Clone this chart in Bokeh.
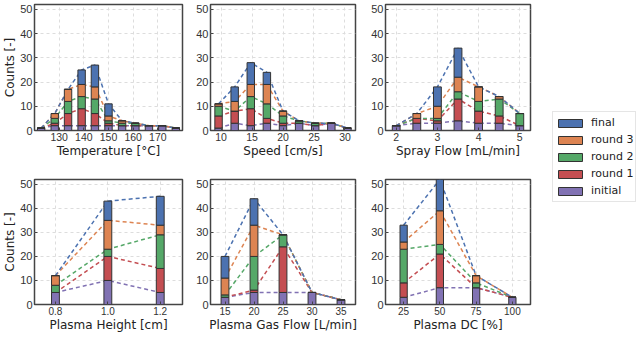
from bokeh.plotting import figure
from bokeh.layouts import row, column
from bokeh.models import Legend, LegendItem, Range1d, FixedTicker, PrintfTickFormatter
from bokeh.embed import file_html
from bokeh.resources import INLINE

ROUNDS = ["initial", "round 1", "round 2", "round 3", "final"]
COLORS = ["#8172b3", "#c44e52", "#55a868", "#dd8452", "#4c72b0"]
Y_TICKS = [0, 10, 20, 30, 40, 50]

# cumulative counts after each round (initial, round 1, round 2, round 3, final)
temp_x = [122.7, 128.2, 133.6, 139.1, 144.5, 150.0, 155.5, 160.9, 166.4, 171.8, 177.3]
temp_initial = [1, 2, 2, 2, 2, 2, 2, 2, 2, 2, 1]
temp_round1 = [1, 3, 7, 9, 7, 3, 2, 2, 2, 2, 1]
temp_round2 = [1, 5, 12, 14, 13, 4, 3, 3, 2, 2, 1]
temp_round3 = [1, 7, 17, 19, 18, 6, 4, 3, 2, 2, 1]
temp_final = [1, 7, 17, 25, 27, 11, 4, 3, 2, 2, 1]
temp_ticks = [130, 140, 150, 160, 170]

speed_x = [9.6, 12.2, 14.8, 17.4, 20.0, 22.6, 25.2, 27.8, 30.4]
speed_initial = [1, 3, 2, 3, 2, 3, 2, 3, 1]
speed_round1 = [6, 8, 9, 5, 3, 3, 2, 3, 1]
speed_round2 = [10, 8, 14, 11, 6, 4, 3, 3, 1]
speed_round3 = [11, 12, 19, 19, 8, 4, 3, 3, 1]
speed_final = [11, 18, 28, 24, 8, 4, 3, 3, 1]
speed_ticks = [10, 15, 20, 25, 30]

spray_x = [2.0, 2.5, 3.0, 3.5, 4.0, 4.5, 5.0]
spray_initial = [2, 3, 3, 4, 3, 3, 2]
spray_round1 = [2, 5, 4, 13, 8, 6, 2]
spray_round2 = [2, 5, 5, 16, 12, 13, 7]
spray_round3 = [2, 7, 10, 22, 18, 14, 7]
spray_final = [2, 7, 18, 34, 18, 14, 7]
spray_ticks = [2, 3, 4, 5]

height_x = [0.8, 1.0, 1.2]
height_initial = [5, 10, 5]
height_round1 = [5, 20, 15]
height_round2 = [8, 23, 29]
height_round3 = [12, 35, 33]
height_final = [12, 43, 45]
height_ticks = [0.8, 1.0, 1.2]

gas_x = [15, 20, 25, 30, 35]
gas_initial = [3, 5, 5, 5, 2]
gas_round1 = [3, 6, 24, 5, 2]
gas_round2 = [4, 20, 29, 5, 2]
gas_round3 = [11, 33, 29, 5, 2]
gas_final = [20, 44, 29, 5, 2]
gas_ticks = [15, 20, 25, 30, 35]

dc_x = [25, 50, 75, 100]
dc_initial = [3, 7, 7, 3]
dc_round1 = [9, 21, 7, 3]
dc_round2 = [23, 25, 9, 3]
dc_round3 = [26, 39, 12, 3]
dc_final = [33, 52, 12, 3]
dc_ticks = [25, 50, 75, 100]


def panel(x, cum, xlabel, ticks, fmt, xr, bar_w, ylabel, fw, bl, br, fh, bt, bb, xfs):
    p = figure(frame_width=fw, frame_height=fh,
               min_border_left=bl, min_border_right=br,
               min_border_top=bt, min_border_bottom=bb,
               x_range=Range1d(*xr), y_range=Range1d(0, 52),
               output_backend="svg", toolbar_location=None)
    for c, col in zip(cum, COLORS):
        p.line(x, c, line_color=col, line_dash="4 3", line_width=1.5)
    bottom = [0] * len(x)
    for c, col in zip(cum, COLORS):
        p.vbar(x=x, width=bar_w, bottom=bottom, top=c, fill_color=col,
               line_color="#333333", line_width=1)
        bottom = c
    p.xaxis.ticker = FixedTicker(ticks=ticks)
    p.xaxis.formatter = PrintfTickFormatter(format=fmt)
    p.yaxis.ticker = FixedTicker(ticks=Y_TICKS)
    p.xaxis.axis_label = xlabel
    if ylabel:
        p.yaxis.axis_label = ylabel
    for ax in (p.xaxis, p.yaxis):
        ax.axis_line_color = None
        ax.major_tick_in = 3
        ax.major_tick_out = 0
        ax.major_tick_line_color = "#444444"
        ax.minor_tick_line_color = None
        ax.major_label_text_font = "Liberation Sans"
        ax.major_label_text_color = "#333333"
        ax.major_label_standoff = 2
        ax.axis_label_text_font = "DejaVu Sans"
        ax.axis_label_text_font_style = "normal"
        ax.axis_label_text_color = "#222222"
        ax.axis_label_standoff = 0
    p.xaxis.major_label_text_font_size = xfs
    p.yaxis.major_label_text_font_size = "11px"
    p.xaxis.axis_label_text_font_size = "12px"
    p.yaxis.axis_label_text_font_size = "12px"
    p.grid.grid_line_color = "#dddddd"
    p.grid.grid_line_dash = "3 3"
    p.grid.grid_line_width = 1
    p.outline_line_color = "#444444"
    p.outline_line_width = 1.5
    p.background_fill_color = "white"
    return p


f1 = panel(temp_x, [temp_initial, temp_round1, temp_round2, temp_round3, temp_final],
           "Temperature [°C]", temp_ticks, "%d", (120, 180), 3.0, "Counts [-]",
           148, 32, 10, 126, 4, 45, "10.5px")
f2 = panel(speed_x, [speed_initial, speed_round1, speed_round2, speed_round3, speed_final],
           "Speed [cm/s]", speed_ticks, "%d", (8.3, 31.7), 1.2, None,
           145, 18, 10, 126, 4, 45, "10.5px")
f3 = panel(spray_x, [spray_initial, spray_round1, spray_round2, spray_round3, spray_final],
           "Spray Flow [mL/min]", spray_ticks, "%d", (1.74, 5.26), 0.19, None,
           145, 20, 8, 126, 4, 45, "10.5px")
f4 = panel(height_x, [height_initial, height_round1, height_round2, height_round3, height_final],
           "Plasma Height [cm]", height_ticks, "%.1f", (0.72, 1.285), 0.03, "Counts [-]",
           148, 32, 10, 125, 4, 36, "10px")
f5 = panel(gas_x, [gas_initial, gas_round1, gas_round2, gas_round3, gas_final],
           "Plasma Gas Flow [L/min]", gas_ticks, "%d", (12.5, 37.5), 1.35, None,
           145, 18, 10, 125, 4, 36, "10px")
f6 = panel(dc_x, [dc_initial, dc_round1, dc_round2, dc_round3, dc_final],
           "Plasma DC [%]", dc_ticks, "%d", (12.5, 112.5), 5.0, None,
           145, 20, 8, 125, 4, 36, "10px")

# legend panel
lf = figure(width=100, height=340, x_range=Range1d(0, 1), y_range=Range1d(0, 1),
            x_axis_location=None, y_axis_location=None, min_border=0,
            output_backend="svg", toolbar_location=None)
lf.grid.visible = False
lf.outline_line_color = None
items = []
for name, col in reversed(list(zip(ROUNDS, COLORS))):
    r = lf.vbar(x=[5], top=[1], width=0.1, fill_color=col, line_color="#333333", line_width=1)
    items.append(LegendItem(label=name, renderers=[r]))
leg = Legend(items=items, location=(14, 138), padding=2, spacing=0,
             label_height=17, glyph_height=10, glyph_width=30, label_standoff=6,
             label_text_font="DejaVu Sans", label_text_font_size="11px",
             label_text_color="#222222",
             border_line_color="#cccccc", border_line_width=1,
             background_fill_color="white", margin=0)
lf.add_layout(leg)

layout = row(column(row(f1, f2, f3), row(f4, f5, f6)), lf)

open("out.html", "w").write(file_html(layout, INLINE))
